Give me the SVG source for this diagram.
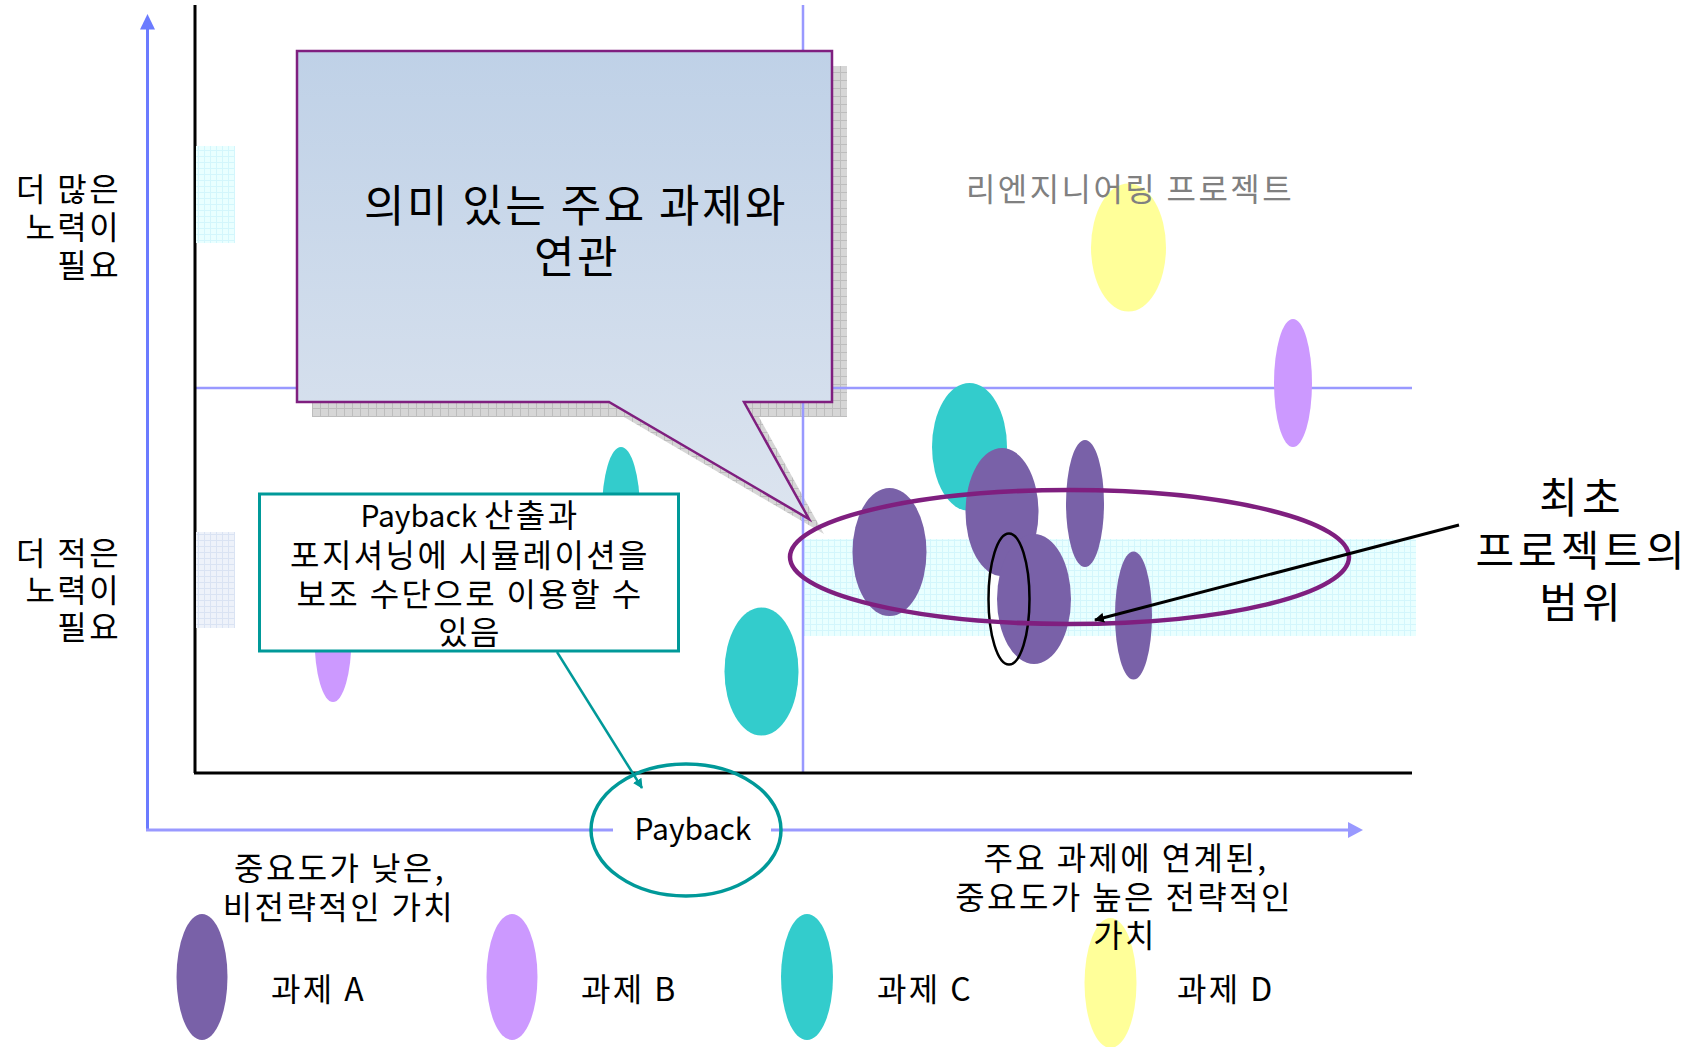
<svg xmlns="http://www.w3.org/2000/svg" width="1695" height="1047" viewBox="0 0 1695 1047">
<style>
.t{font-family:"Noto Sans CJK KR","Noto Sans",sans-serif;fill:#000;font-size:32px;letter-spacing:2.4px}
.big{font-size:44px;letter-spacing:2.5px}
.scope{font-size:42px;letter-spacing:4px}
.lat{font-size:30px;letter-spacing:0}
.grey{fill:#808080}
.grid{stroke:#9999FF;stroke-width:2.5;fill:none}
.axis{stroke:#000;stroke-width:3;fill:none}
.pA{fill:#7961A8}
.pB{fill:#CC99FF}
.pC{fill:#33CCCC}
.pD{fill:#FFFF99}
</style>
<defs>
<pattern id="cyanPat" width="6" height="6" patternUnits="userSpaceOnUse">
<rect width="6" height="6" fill="#E9FFFF"/>
<path d="M0,0.5H6M0.5,0V6" stroke="#D3F6FC" stroke-width="1"/>
</pattern>
<pattern id="lavPat" width="6" height="6" patternUnits="userSpaceOnUse">
<rect width="6" height="6" fill="#EEF2FA"/>
<path d="M0,0.5H6M0.5,0V6" stroke="#DAE3F3" stroke-width="1"/>
</pattern>
<pattern id="shadowPat" width="8" height="8" patternUnits="userSpaceOnUse">
<rect width="8" height="8" fill="#D6D6D6"/>
<path d="M0,0.5H8M0.5,0V8" stroke="#BDBDBD" stroke-width="1"/>
</pattern>
<linearGradient id="calloutGrad" x1="0" y1="0" x2="0" y2="1">
<stop offset="0" stop-color="#BFD1E7"/>
<stop offset="1" stop-color="#DCE4EF"/>
</linearGradient>
<marker id="arrTeal" markerWidth="10" markerHeight="10" refX="9" refY="5" orient="auto" markerUnits="userSpaceOnUse" viewBox="0 0 10 10">
<path d="M0,0 L10,5 L0,10 Z" fill="#009999"/>
</marker>
<marker id="arrBlack" markerWidth="10" markerHeight="10" refX="9" refY="5" orient="auto" markerUnits="userSpaceOnUse" viewBox="0 0 10 10">
<path d="M0,0 L10,5 L0,10 Z" fill="#000"/>
</marker>
</defs>

<g id="background">
<rect x="803" y="539" width="613" height="97" fill="url(#cyanPat)"/>
</g>

<g id="callout-shadow">
<path d="M312,66 H847 V417 H759 L824,534 L624,417 H312 Z" fill="url(#shadowPat)"/>
</g>

<g id="axes">
<line class="grid" x1="803" y1="5" x2="803" y2="773"/>
<line class="grid" x1="195" y1="388" x2="1412" y2="388"/>
<line class="axis" x1="195" y1="5" x2="195" y2="773"/>
<line class="axis" x1="194" y1="773" x2="1412" y2="773"/>
<rect x="196" y="146" width="39" height="97" fill="url(#cyanPat)"/>
<rect x="196" y="532" width="39" height="96" fill="url(#lavPat)"/>
<line x1="147.5" y1="830" x2="147.5" y2="28" stroke="#6B7BFF" stroke-width="3"/>
<path d="M140,29.5 L147.5,14 L155,29.5 Z" fill="#6B7BFF"/>
<line x1="146" y1="830" x2="1350" y2="830" stroke="#9999FF" stroke-width="3"/>
<path d="M1348,822 L1363,830 L1348,838 Z" fill="#9999FF"/>
</g>

<g id="left-labels">
<text class="t" text-anchor="end"><tspan x="121" y="201">더 많은</tspan><tspan x="121" y="239">노력이</tspan><tspan x="121" y="277">필요</tspan></text>
<text class="t" text-anchor="end"><tspan x="121" y="565">더 적은</tspan><tspan x="121" y="602">노력이</tspan><tspan x="121" y="639">필요</tspan></text>
</g>

<g id="tasks-left">
<ellipse class="pC" cx="621" cy="511" rx="19" ry="64"/>
<ellipse class="pB" cx="333" cy="638" rx="18.5" ry="64"/>
<ellipse class="pC" cx="761.5" cy="671.5" rx="37" ry="64"/>
</g>

<g id="callout">
<path d="M297,51 H832 V402 H744 L809,519 L609,402 H297 Z" fill="url(#calloutGrad)" stroke="#7F1F7F" stroke-width="2.5" stroke-linejoin="miter"/>
<text class="t big" text-anchor="middle"><tspan x="576" y="222">의미 있는 주요 과제와</tspan><tspan x="577" y="273">연관</tspan></text>
</g>

<g id="payback-note">
<rect x="259.5" y="494" width="419" height="157" fill="#FFFFFF" stroke="#009999" stroke-width="3"/>
<text class="t" text-anchor="middle"><tspan x="470" y="527"><tspan class="lat">Payback </tspan>산출과</tspan><tspan x="470" y="567">포지셔닝에 시뮬레이션을</tspan><tspan x="470" y="606">보조 수단으로 이용할 수</tspan><tspan x="470" y="644">있음</tspan></text>
</g>

<g id="reengineering">
<ellipse class="pD" cx="1128.5" cy="247.5" rx="37.5" ry="64"/>
<ellipse class="pB" cx="1293" cy="383" rx="19" ry="64"/>
<text class="t grey" text-anchor="middle" x="1130" y="201">리엔지니어링 프로젝트</text>
</g>

<g id="tasks-right">
<ellipse cx="1009" cy="599" rx="20.5" ry="65.5" fill="#FFFFFF"/>
<ellipse class="pC" cx="969.5" cy="447" rx="37.5" ry="64"/>
<ellipse class="pA" cx="889.5" cy="552" rx="37" ry="64"/>
<ellipse class="pA" cx="1002" cy="512" rx="36.5" ry="64"/>
<ellipse class="pA" cx="1085" cy="503.5" rx="19" ry="63.5"/>
<ellipse class="pA" cx="1034" cy="599" rx="37" ry="65"/>
<ellipse class="pA" cx="1133.5" cy="615.5" rx="18.5" ry="64"/>
<ellipse cx="1009" cy="599" rx="20.5" ry="65.5" fill="none" stroke="#000" stroke-width="2.5"/>
</g>

<g id="initial-scope">
<ellipse cx="1069.5" cy="557" rx="279.5" ry="67" fill="none" stroke="#7F1F7F" stroke-width="4.5"/>
<text class="t scope" text-anchor="middle"><tspan x="1582" y="513">최초</tspan><tspan x="1582" y="566">프로젝트의</tspan><tspan x="1582" y="618">범위</tspan></text>
</g>

<g id="payback">
<ellipse cx="686" cy="830" rx="95" ry="66" fill="none" stroke="#009999" stroke-width="3.5"/>
<rect x="613" y="816" width="158" height="28" fill="#FFFFFF"/>
<text class="t lat" text-anchor="middle" x="693" y="840">Payback</text>
</g>

<g id="connectors">
<line x1="557" y1="652" x2="642" y2="788" stroke="#009999" stroke-width="2.5" marker-end="url(#arrTeal)"/>
<line x1="1459" y1="525" x2="1095" y2="620" stroke="#000" stroke-width="3" marker-end="url(#arrBlack)"/>
</g>

<g id="axis-label-left">
<text class="t" text-anchor="middle"><tspan x="340" y="880">중요도가 낮은,</tspan><tspan x="339" y="919">비전략적인 가치</tspan></text>
</g>

<g id="legend">
<ellipse class="pA" cx="202" cy="977" rx="25.5" ry="63"/>
<ellipse class="pB" cx="512" cy="977" rx="25.5" ry="63"/>
<ellipse class="pC" cx="807" cy="977" rx="26" ry="63"/>
<ellipse class="pD" cx="1110.5" cy="983" rx="26" ry="65"/>
<text class="t" x="271" y="1001">과제 A</text>
<text class="t" x="581" y="1001">과제 B</text>
<text class="t" x="877" y="1001">과제 C</text>
<text class="t" x="1177" y="1001">과제 D</text>
</g>

<g id="axis-label-right">
<text class="t" text-anchor="middle"><tspan x="1126" y="870">주요 과제에 연계된,</tspan><tspan x="1124" y="909">중요도가 높은 전략적인</tspan><tspan x="1125" y="947">가치</tspan></text>
</g>
</svg>
